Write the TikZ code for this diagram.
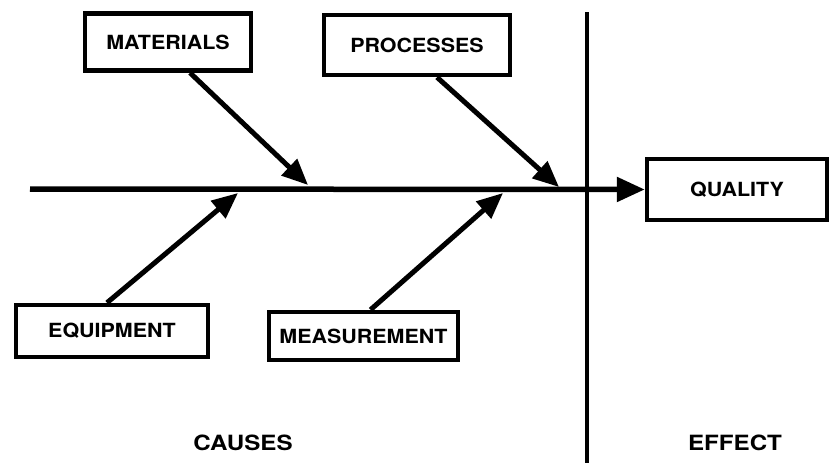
\documentclass[tikz,border=0pt]{standalone}
\usepackage{fontspec}
\setmainfont{TeX Gyre Heros}
\newfontfamily\widefont[FakeStretch=1.1]{TeX Gyre Heros}
\newfontfamily\widerfont[FakeStretch=1.15]{TeX Gyre Heros}
\usetikzlibrary{arrows.meta}
\begin{document}
\begin{tikzpicture}[x=1pt,y=-1pt,
  box/.style={draw,line width=4.5pt,rectangle,inner sep=0pt,font=\widefont\bfseries\fontsize{19.5}{22}\selectfont},
  lbl/.style={inner sep=0pt,font=\widerfont\bfseries\fontsize{21}{24}\selectfont},
  arr/.style={line width=5pt,-{Triangle[length=26pt,width=22pt]}}]
\useasboundingbox (0,0) rectangle (829,463);
% boxes
\node[box,minimum width=166pt,minimum height=57pt] (mat) at (168,42) {MATERIALS};
\node[box,minimum width=186pt,minimum height=60pt] (proc) at (417,45) {PROCESSES};
\node[box,minimum width=180pt,minimum height=61pt] (qual) at (737,189.5) {QUALITY};
\node[box,minimum width=192pt,minimum height=52pt] (equip) at (112,331) {EQUIPMENT};
\node[box,minimum width=189pt,minimum height=48pt] (meas) at (363.5,336) {MEASUREMENT};
% spine and divider
\coordinate (spineL) at (30,189);
\coordinate (tipM) at (308,185);
\coordinate (tipP) at (559,187);
\coordinate (tipE) at (238,193);
\coordinate (tipS) at (503,193);
\coordinate (divT) at (587,12);
\coordinate (divB) at (587,463);
\draw[line width=4pt] (divT) -- (divB);
\draw[line width=5.5pt,-{Triangle[length=28pt,width=24pt]}] (spineL) -- (qual.west);
% cause arrows
\draw[arr] ([xshift=22pt]mat.south) -- (tipM);
\draw[arr] ([xshift=20pt]proc.south) -- (tipP);
\draw[arr] ([xshift=-5pt]equip.north) -- (tipE);
\draw[arr] ([xshift=7pt]meas.north) -- (tipS);
% labels
\node[lbl] (causes) at (243,443) {CAUSES};
\node[lbl] (effect) at (735,443) {EFFECT};
\end{tikzpicture}
\end{document}
